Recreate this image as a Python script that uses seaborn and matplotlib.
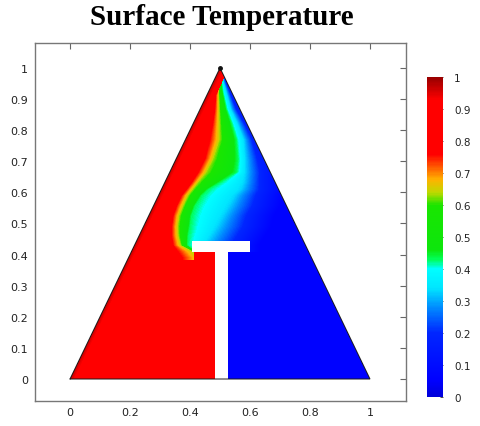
import numpy as np
import matplotlib
matplotlib.use("Agg")
import matplotlib.pyplot as plt
import seaborn as sns
from matplotlib.colors import LinearSegmentedColormap

# ---------------- data ----------------
title = "Surface Temperature"
tri_x = [0.0, 1.0, 0.5]
tri_y = [0.0, 0.0, 1.0]
stem_x = [0.483, 0.527]
stem_top = 0.408
bar_x = [0.406, 0.600]
bar_y = [0.408, 0.445]

# isotherm positions (x) along horizontal rows of the plume
row_y       = [0.39, 0.41, 0.43, 0.46, 0.49, 0.525, 0.557, 0.59, 0.61, 0.632, 0.665, 0.707, 0.77, 0.82, 0.868, 0.922, 0.95, 1.00]
red_end     = [0.375, 0.360, 0.344, 0.339, 0.339, 0.344, 0.356, 0.372, 0.389, 0.406, 0.428, 0.450, 0.467, 0.476, 0.483, 0.487, 0.4925, 0.4990]
green_start = [0.430, 0.410, 0.370, 0.362, 0.360, 0.365, 0.378, 0.394, 0.410, 0.428, 0.456, 0.478, 0.500, 0.499, 0.498, 0.496, 0.4975, 0.5000]
green_end   = [0.460, 0.420, 0.392, 0.394, 0.400, 0.405, 0.417, 0.439, 0.461, 0.500, 0.556, 0.561, 0.555, 0.540, 0.522, 0.510, 0.5065, 0.5010]
cyan_end    = [0.500, 0.460, 0.450, 0.470, 0.490, 0.510, 0.530, 0.550, 0.570, 0.580, 0.585, 0.585, 0.580, 0.560, 0.537, 0.522, 0.5140, 0.5020]
lblue_end   = [0.560, 0.550, 0.550, 0.570, 0.590, 0.600, 0.620, 0.630, 0.640, 0.640, 0.640, 0.630, 0.610, 0.585, 0.556, 0.534, 0.5220, 0.5030]
# temperature at those isotherms
T_edge, T_red, T_red_end, T_green_start = 0.97, 0.88, 0.76, 0.63
T_green_end, T_cyan_end, T_lblue_end, T_blue = 0.43, 0.33, 0.18, 0.06

xticks = [0, 0.2, 0.4, 0.6, 0.8, 1]
yticks = [0, 0.1, 0.2, 0.3, 0.4, 0.5, 0.6, 0.7, 0.8, 0.9, 1]
cticks = [0, 0.1, 0.2, 0.3, 0.4, 0.5, 0.6, 0.7, 0.8, 0.9, 1]

# ---------------- field on a grid ----------------
N, M = 300, 311
xc = (np.arange(N) + 0.5) / N
yc = 1 - (np.arange(M) + 0.5) / M
field = np.zeros((M, N))
for i, y in enumerate(yc):
    xl = y / 2
    if y < 0.383:
        row = np.where(xc < 0.5, np.where(xc < xl + 0.03, np.interp(xc, [xl, xl + 0.03], [T_edge, T_red]), T_red), T_blue)
    else:
        k = [np.interp(y, row_y, a) for a in (red_end, green_start, green_end, cyan_end, lblue_end)]
        xp = [xl, xl + 0.03, k[0] - 0.012, k[0], k[1], k[2], k[3], k[4], k[4] + 0.08]
        fp = [T_edge, T_red, T_red, T_red_end, T_green_start, T_green_end, T_cyan_end, T_lblue_end, T_blue]
        xp = np.maximum.accumulate(np.array(xp))
        row = np.interp(xc, xp, fp)
        if y < bar_y[0]:
            row = np.where((xc > bar_x[0] + 0.006) & (xc < 0.5), T_red, row)
            row = np.where(xc >= 0.5, T_blue, row)
    field[i] = row

X, Y = np.meshgrid(xc, yc)
inside = (Y >= 0) & (X >= Y / 2) & (X <= 1 - Y / 2)
in_T = ((X >= stem_x[0]) & (X <= stem_x[1]) & (Y <= stem_top)) | \
       ((X >= bar_x[0]) & (X <= bar_x[1]) & (Y >= bar_y[0]) & (Y <= bar_y[1]))
mask = (~inside) | in_T

cmap = LinearSegmentedColormap.from_list("rainbow_comsol", [
    (0.00, (0.0, 0.0, 0.85)), (0.05, (0.0, 0.0, 1.0)), (0.20, (0.0, 0.15, 1.0)),
    (0.28, (0.0, 0.55, 1.0)), (0.34, (0.0, 0.9, 1.0)), (0.40, (0.0, 1.0, 1.0)),
    (0.43, (0.0, 1.0, 0.35)), (0.46, (0.05, 0.9, 0.05)), (0.60, (0.1, 0.9, 0.0)),
    (0.64, (0.75, 0.85, 0.0)), (0.68, (1.0, 0.7, 0.0)), (0.72, (1.0, 0.35, 0.0)),
    (0.76, (1.0, 0.0, 0.0)), (0.93, (1.0, 0.0, 0.0)), (1.00, (0.6, 0.0, 0.0))])

# ---------------- drawing ----------------
sns.set_style("white")
fig = plt.figure(figsize=(4.8, 4.27), dpi=100)
ax = fig.add_axes([35 / 480, 1 - 402 / 427, 371 / 480, 358 / 427])
cax = fig.add_axes([427 / 480, 1 - 398 / 427, 16 / 480, 320 / 427])

sns.heatmap(field, mask=mask, cmap=cmap, vmin=0, vmax=1, ax=ax, cbar_ax=cax,
            xticklabels=False, yticklabels=False, linewidths=0, rasterized=True)

# triangle outline and apex dot (in heatmap index coords)
ox = [v * N for v in tri_x] + [tri_x[0] * N]
oy = [(1 - v) * M for v in tri_y] + [(1 - tri_y[0]) * M]
ax.plot(ox, oy, color="#1a1a1a", lw=0.7, solid_joinstyle="miter")
ax.plot([tri_x[2] * N], [(1 - tri_y[2]) * M], "o", color="#111", ms=2.5)

ax.set_xlim(-0.1167 * N, 1.12 * N)
ax.set_ylim((1 + 0.0707) * M, (1 - 1.08) * M)
for s in ax.spines.values():
    s.set_visible(True)
    s.set_color("#777777")
    s.set_linewidth(1.0)
ax.set_xticks([v * N for v in xticks])
ax.set_xticklabels([f"{v:g}" for v in xticks])
ax.set_yticks([(1 - v) * M for v in yticks])
ax.set_yticklabels([f"{v:g}" for v in yticks], rotation=0)
ax.tick_params(direction="in", length=4, width=0.8, color="#666666", top=True, right=True,
               labelsize=8, labelcolor="#222222", pad=4)
ax.tick_params(axis="y", pad=5)

cbar = ax.collections[0].colorbar
cbar.set_ticks(cticks)
cbar.set_ticklabels([f"{v:g}" for v in cticks])
cbar.outline.set_visible(False)
cax.tick_params(length=2, width=0.6, color="#333333", direction="in", labelsize=7.5,
                labelcolor="#222222", pad=8)

fig.text(222 / 480, 1 - 25 / 427, title, ha="center", va="baseline", fontsize=21,
         fontweight="bold", family="Liberation Serif", color="black")

fig.savefig("out.png", dpi=100)
